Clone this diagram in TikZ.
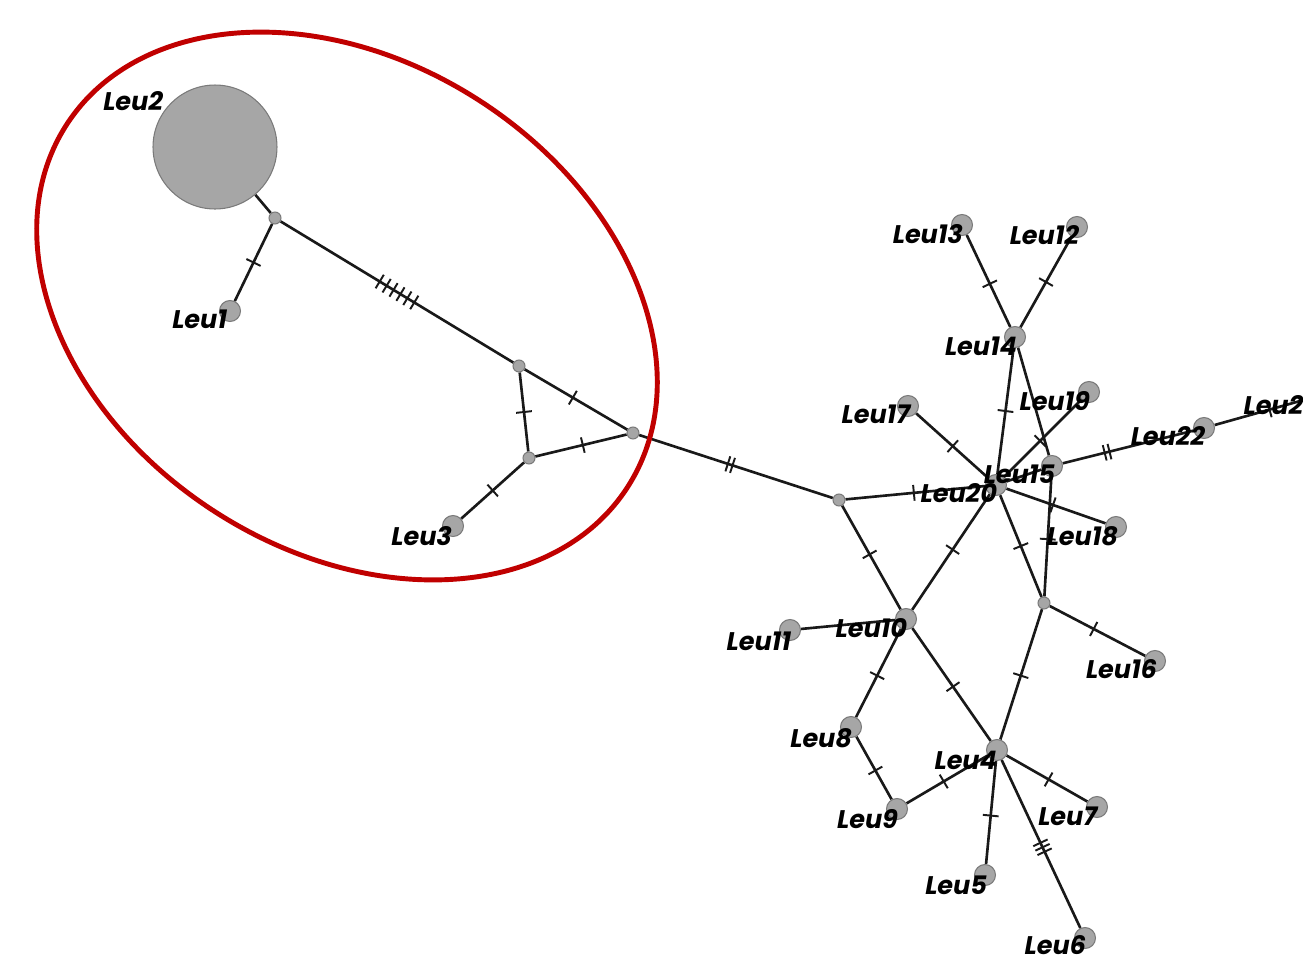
\documentclass[tikz,border=0pt]{standalone}
\usepackage{fontspec}
\newfontfamily\labfont{Poppins}[UprightFeatures={FakeSlant=0.18},BoldFeatures={FakeSlant=0.18}]
\usetikzlibrary{decorations.markings}
\pgfdeclarelayer{bg}\pgfsetlayers{bg,main}
\definecolor{ellred}{HTML}{C00000}
\definecolor{hapfill}{HTML}{A6A6A6}
\definecolor{hapdraw}{HTML}{7A7A7A}
\begin{document}
\begin{tikzpicture}[x=0.02cm,y=-0.02cm,
 hap/.style={circle,draw=hapdraw,fill=hapfill,line width=0.6pt,minimum size=0.42cm,inner sep=0pt},
 med/.style={hap,minimum size=0.24cm},
 lbl/.style={anchor=base east,font=\labfont\bfseries\fontsize{14.5}{14.5}\selectfont,inner sep=0pt},
 edge/.style={line width=1.5pt,black!90},
 tks/.style n args={3}{postaction={decorate,decoration={markings,mark=at position #1 with {\foreach \k in {1,...,#2}{\draw[line width=1.1pt,black!90] ({(\k-(#2+1)/2)*#3},-4.5pt) -- ++(0pt,9pt);}}}}},
 tk/.style 2 args={tks={#1}{#2}{2.8pt}},
 ellipsestyle/.style={draw=ellred,line width=2.8pt}
]
\useasboundingbox (0,0) rectangle (1303,961);
% haplotypes
\node[hap,minimum size=2.48cm] (n2) at (215,147) {};
\node[hap] (n1) at (230,311) {};
\node[hap] (n3) at (453,526) {};
\node[hap] (n4) at (997,750) {};
\node[hap] (n5) at (985,875) {};
\node[hap] (n6) at (1085,938) {};
\node[hap] (n7) at (1097,807) {};
\node[hap] (n8) at (851,727) {};
\node[hap] (n9) at (897,809) {};
\node[hap] (n10) at (906,619) {};
\node[hap] (n11) at (790,630) {};
\node[hap] (n12) at (1077,227) {};
\node[hap] (n13) at (962,225) {};
\node[hap] (n14) at (1015,337) {};
\node[hap] (n15) at (1052,466) {};
\node[hap] (n16) at (1155,661) {};
\node[hap] (n17) at (908,406) {};
\node[hap] (n18) at (1116,527) {};
\node[hap] (n19) at (1089,392) {};
\node[hap] (n20) at (996,485) {};
\node[hap] (n21) at (1325,394) {};
\node[hap] (n22) at (1204,428) {};
% median vectors
\node[med] (m1) at (275,218) {};
\node[med] (m2) at (519,366) {};
\node[med] (m3) at (529,458) {};
\node[med] (m4) at (633,433) {};
\node[med] (m5) at (839,500) {};
\node[med] (m6) at (1044,603) {};
% edges
\begin{pgfonlayer}{bg}
\draw[edge] (n2) -- (m1);
\draw[edge,tk={0.5}{1}] (m1) -- (n1);
\draw[edge,tks={0.5}{6}{4.6pt}] (m1) -- (m2);
\draw[edge,tk={0.5}{1}] (m2) -- (m3);
\draw[edge,tk={0.47}{1}] (m2) -- (m4);
\draw[edge,tk={0.52}{1}] (m3) -- (m4);
\draw[edge,tk={0.5}{1}] (m3) -- (n3);
\draw[edge,tk={0.47}{2}] (m4) -- (m5);
\draw[edge,tk={0.49}{1}] (m5) -- (n20);
\draw[edge,tk={0.47}{1}] (m5) -- (n10);
\draw[edge,tk={0.48}{1}] (n20) -- (n10);
\draw[edge,tk={0.49}{1}] (n20) -- (n17);
\draw[edge,tk={0.5}{1}] (n20) -- (n14);
\draw[edge,tk={0.47}{1}] (n20) -- (n19);
\draw[edge] (n20) -- (n15);
\draw[edge] (n14) -- (n15);
\draw[edge,tk={0.47}{1}] (n14) -- (n13);
\draw[edge,tk={0.5}{1}] (n14) -- (n12);
\draw[edge,tk={0.34}{2}] (n15) -- (n22);
\draw[edge,tk={0.55}{1}] (n22) -- (n21);
\draw[edge,tk={0.47}{1}] (n20) -- (n18);
\draw[edge,tk={0.52}{1}] (n15) -- (m6);
\draw[edge,tk={0.5}{1}] (n20) -- (m6);
\draw[edge,tk={0.46}{1}] (m6) -- (n16);
\draw[edge,tk={0.51}{1}] (m6) -- (n4);
\draw[edge] (n10) -- (n11);
\draw[edge,tk={0.53}{1}] (n10) -- (n8);
\draw[edge,tk={0.52}{1}] (n10) -- (n4);
\draw[edge,tk={0.54}{1}] (n8) -- (n9);
\draw[edge,tk={0.46}{1}] (n9) -- (n4);
\draw[edge,tk={0.52}{1}] (n4) -- (n7);
\draw[edge,tk={0.53}{1}] (n4) -- (n5);
\draw[edge,tk={0.52}{3}] (n4) -- (n6);
\end{pgfonlayer}
% labels
\node[lbl] (l2) at (162,110) {Leu2};
\node[lbl] (l1) at (226,328) {Leu1};
\node[lbl] (l3) at (451,545) {Leu3};
\node[lbl] (l13) at (962,243) {Leu13};
\node[lbl] (l12) at (1078,244) {Leu12};
\node[lbl] (l14) at (1016,355) {Leu14};
\node[lbl] (l17) at (909,423) {Leu17};
\node[lbl] (l19) at (1089,410) {Leu19};
\node[lbl] (l15) at (1054,483) {Leu15};
\node[lbl] (l20) at (996,502) {Leu20};
\node[lbl] (l22) at (1204,445) {Leu22};
\node[lbl,anchor=base west] (l21) at (1242,414) {Leu21};
\node[lbl] (l18) at (1117,545) {Leu18};
\node[lbl] (l16) at (1156,678) {Leu16};
\node[lbl] (l10) at (906,637) {Leu10};
\node[lbl] (l11) at (790,650) {Leu11};
\node[lbl] (l8) at (851,747) {Leu8};
\node[lbl] (l9) at (897,828) {Leu9};
\node[lbl] (l4) at (996,769) {Leu4};
\node[lbl] (l7) at (1096,825) {Leu7};
\node[lbl] (l5) at (986,894) {Leu5};
\node[lbl] (l6) at (1085,954) {Leu6};
% red ellipse
\draw[ellipsestyle,rotate around={-32.9:(347,306)}] (347,306) ellipse [x radius=6.68cm, y radius=4.89cm];
\end{tikzpicture}
\end{document}
